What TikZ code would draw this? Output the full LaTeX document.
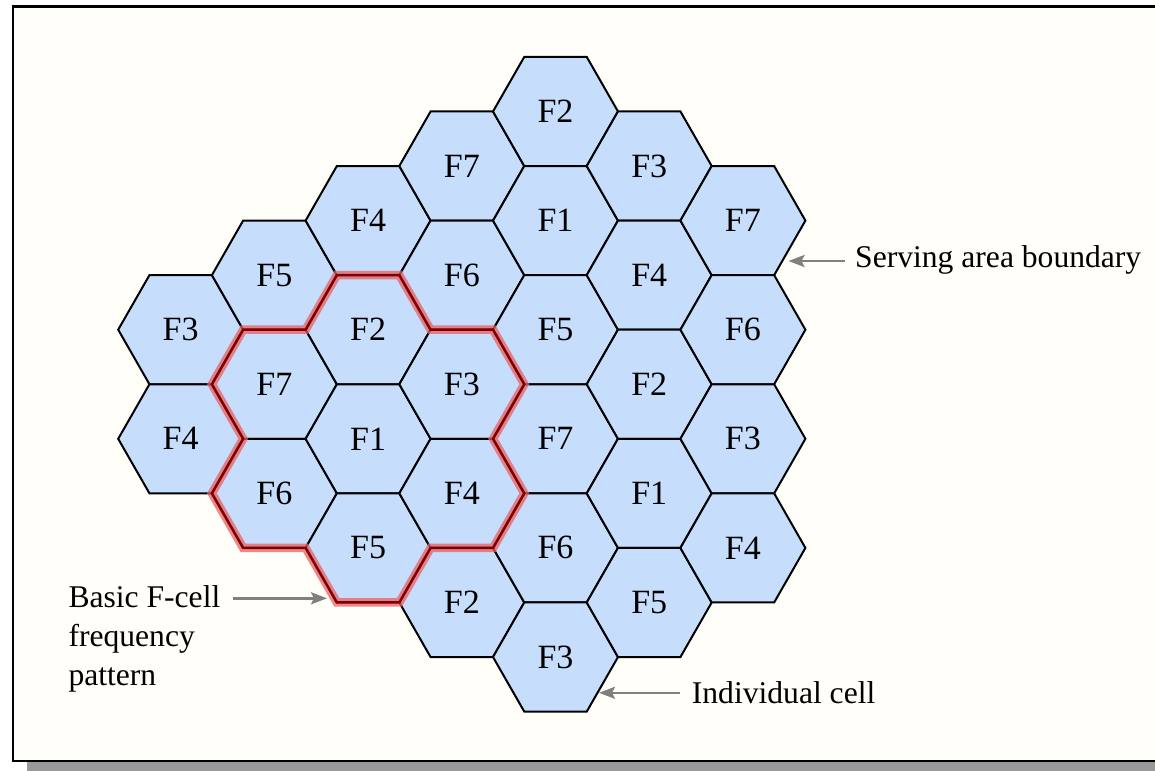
\documentclass[tikz,border=0pt]{standalone}
\usepackage{fontspec}
\setmainfont{Liberation Serif}
\usetikzlibrary{arrows.meta,calc}
\definecolor{bgcream}{RGB}{255,254,248}
\definecolor{cellblue}{RGB}{198,222,252}
\definecolor{shadowgray}{RGB}{153,153,153}
\definecolor{pointergray}{RGB}{128,128,128}
\definecolor{glowred}{RGB}{232,96,100}
\definecolor{corered}{RGB}{128,0,0}
\begin{document}
\begin{tikzpicture}[x=1pt,y=-1pt,
  cellshape/.style={fill=cellblue,draw=black,line width=2pt,line join=miter},
  celllabel/.style={inner sep=0pt,font=\fontsize{34}{40}\selectfont},
  notetext/.style={inner sep=0pt,font=\fontsize{31.6}{38.8}\selectfont,anchor=base west},
  pointer/.style={draw=pointergray,line width=2.5pt,-{Stealth[length=16pt,width=12pt,inset=3pt]}},
  glow/.style={draw=glowred,opacity=0.75,line width=8.5pt},
  core/.style={draw=corered,line width=2.5pt},
  framebox/.style={fill=bgcream,draw=black,line width=2.5pt}
]
\useasboundingbox (0,0) rectangle (1155,770);
\begin{scope}
  \clip (0,0) rectangle (1155,770);
  \fill[white] (0,0) rectangle (1155,770);
  \fill[shadowgray] (27,15) rectangle (1175,780);
  \draw[framebox] (13,6.3) rectangle (1165,761);
\end{scope}

% hexagonal cells
\foreach \nm/\cc/\rr in {A1/-4/4,A2/-4/6,
  B1/-3/3,B2/-3/5,B3/-3/7,
  C1/-2/2,C2/-2/4,C3/-2/6,C4/-2/8,
  D1/-1/1,D2/-1/3,D3/-1/5,D4/-1/7,D5/-1/9,
  E1/0/0,E2/0/2,E3/0/4,E4/0/6,E5/0/8,E6/0/10,
  G1/1/1,G2/1/3,G3/1/5,G4/1/7,G5/1/9,
  H1/2/2,H2/2/4,H3/2/6,H4/2/8}{
  \coordinate (c\nm) at ({555.5+93.7*\cc},{111.5+54.55*\rr});
  \draw[cellshape] ($(c\nm)+(-62.5,0)$) -- ++(31.25,-54.55) -- ++(62.5,0)
    -- ++(31.25,54.55) -- ++(-31.25,54.55) -- ++(-62.5,0) -- cycle;
}

% basic 7-cell pattern outline
\foreach \st in {glow,core}{
\draw[\st] ($(cC2)+(-31.25,-54.55)$) -- ($(cC2)+(31.25,-54.55)$)
  -- ($(cD3)+(-31.25,-54.55)$) -- ($(cD3)+(31.25,-54.55)$)
  -- ($(cD3)+(62.5,0)$) -- ($(cD4)+(31.25,-54.55)$)
  -- ($(cD4)+(62.5,0)$) -- ($(cD4)+(31.25,54.55)$)
  -- ($(cC4)+(62.5,0)$) -- ($(cC4)+(31.25,54.55)$)
  -- ($(cC4)+(-31.25,54.55)$) -- ($(cB3)+(31.25,54.55)$)
  -- ($(cB3)+(-31.25,54.55)$) -- ($(cB3)+(-62.5,0)$)
  -- ($(cB2)+(-31.25,54.55)$) -- ($(cB2)+(-62.5,0)$)
  -- ($(cB2)+(-31.25,-54.55)$) -- ($(cB2)+(31.25,-54.55)$) -- cycle;
}

% cell labels
\foreach \nm/\tx in {A1/F3,A2/F4,B1/F5,B2/F7,B3/F6,
  C1/F4,C2/F2,C3/F1,C4/F5,
  D1/F7,D2/F6,D3/F3,D4/F4,D5/F2,
  E1/F2,E2/F1,E3/F5,E4/F7,E5/F6,E6/F3,
  G1/F3,G2/F4,G3/F2,G4/F1,G5/F5,
  H1/F7,H2/F6,H3/F3,H4/F4}{
  \node[celllabel] (\nm) at (c\nm) {\tx};
}

% annotations
\node[notetext] (serving) at (855,267.7) {Serving area boundary};
\coordinate (tipS) at (788.5,261);
\draw[pointer] ([xshift=-10pt]tipS -| serving.west) -- (tipS);

\node[notetext] (individual) at (691.7,703) {Individual cell};
\coordinate (tipI) at (599,692.8);
\draw[pointer] ([xshift=-11.7pt]tipI -| individual.west) -- (tipI);

\node[notetext] (basic1) at (68.3,607.3) {Basic F-cell};
\node[notetext] (basic2) at (68.3,646) {frequency};
\node[notetext] (basic3) at (68.3,685) {pattern};
\coordinate (tipB) at (327,598.3);
\draw[pointer] ([xshift=12.7pt]tipB -| basic1.east) -- (tipB);
\end{tikzpicture}
\end{document}
